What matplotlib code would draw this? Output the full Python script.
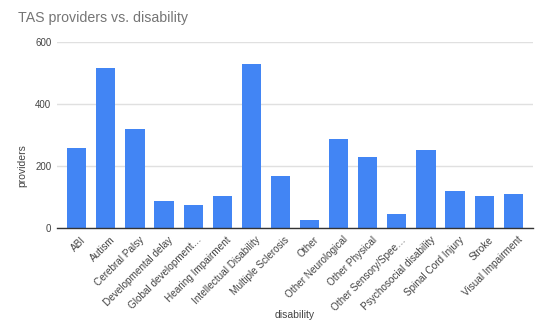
import matplotlib
matplotlib.use("Agg")
import matplotlib.pyplot as plt
from matplotlib.transforms import ScaledTranslation

categories = ["ABI", "Autism", "Cerebral Palsy", "Developmental delay",
              "Global development\u2026", "Hearing Impairment",
              "Intellectual Disability", "Multiple Sclerosis", "Other",
              "Other Neurological", "Other Physical", "Other Sensory/Spee\u2026",
              "Psychosocial disability", "Spinal Cord Injury", "Stroke",
              "Visual Impairment"]
providers = [258, 515, 318, 86, 72, 103, 530, 166, 26, 288, 227, 43, 250, 117, 103, 110]
yticks = [0, 200, 400, 600]

plt.rcParams['font.family'] = ['Liberation Sans', 'DejaVu Sans']

fig = plt.figure(figsize=(5.5, 3.3), dpi=100)
ax = fig.add_axes([0.1036, 0.31, 0.8655, 0.563])

x = range(len(categories))
ax.bar(x, providers, width=0.66, color="#4285F4", zorder=3)

ax.set_xlim(-0.68, len(categories) - 0.32)
ax.set_ylim(0, 600)
ax.set_yticks(yticks)
ax.set_yticklabels([str(v) for v in yticks], fontsize=7, color="#444444")
ax.yaxis.grid(True, color="#e0e0e0", linewidth=1, zorder=0)
ax.tick_params(axis='y', length=0, pad=4)
ax.tick_params(axis='x', length=0, pad=5)

ax.set_xticks(list(x))
ax.set_xticklabels(categories, rotation=45, ha='right', va='top',
                   rotation_mode='anchor', fontsize=7.2, color="#444444")
# shift labels a little to the right, like the original
shift = ScaledTranslation(4 / 100, 0, fig.dpi_scale_trans)
for lbl in ax.get_xticklabels():
    lbl.set_transform(lbl.get_transform() + shift)

for s in ['top', 'right', 'left']:
    ax.spines[s].set_visible(False)
ax.spines['bottom'].set_color("#333333")
ax.spines['bottom'].set_linewidth(1)
ax.spines['bottom'].set_zorder(4)

fig.text(22 / 550, 1 - 166 / 330, "providers", fontsize=7.5, color="#444444",
         ha='center', va='center', rotation=90)
fig.text(295 / 550, 1 - 315 / 330, "disability", fontsize=7.5, color="#444444",
         ha='center', va='center')
fig.text(18 / 550, 1 - 18 / 330, "TAS providers vs. disability", fontsize=10.2,
         color="#757575", ha='left', va='center')

fig.savefig("out.png", dpi=100)
